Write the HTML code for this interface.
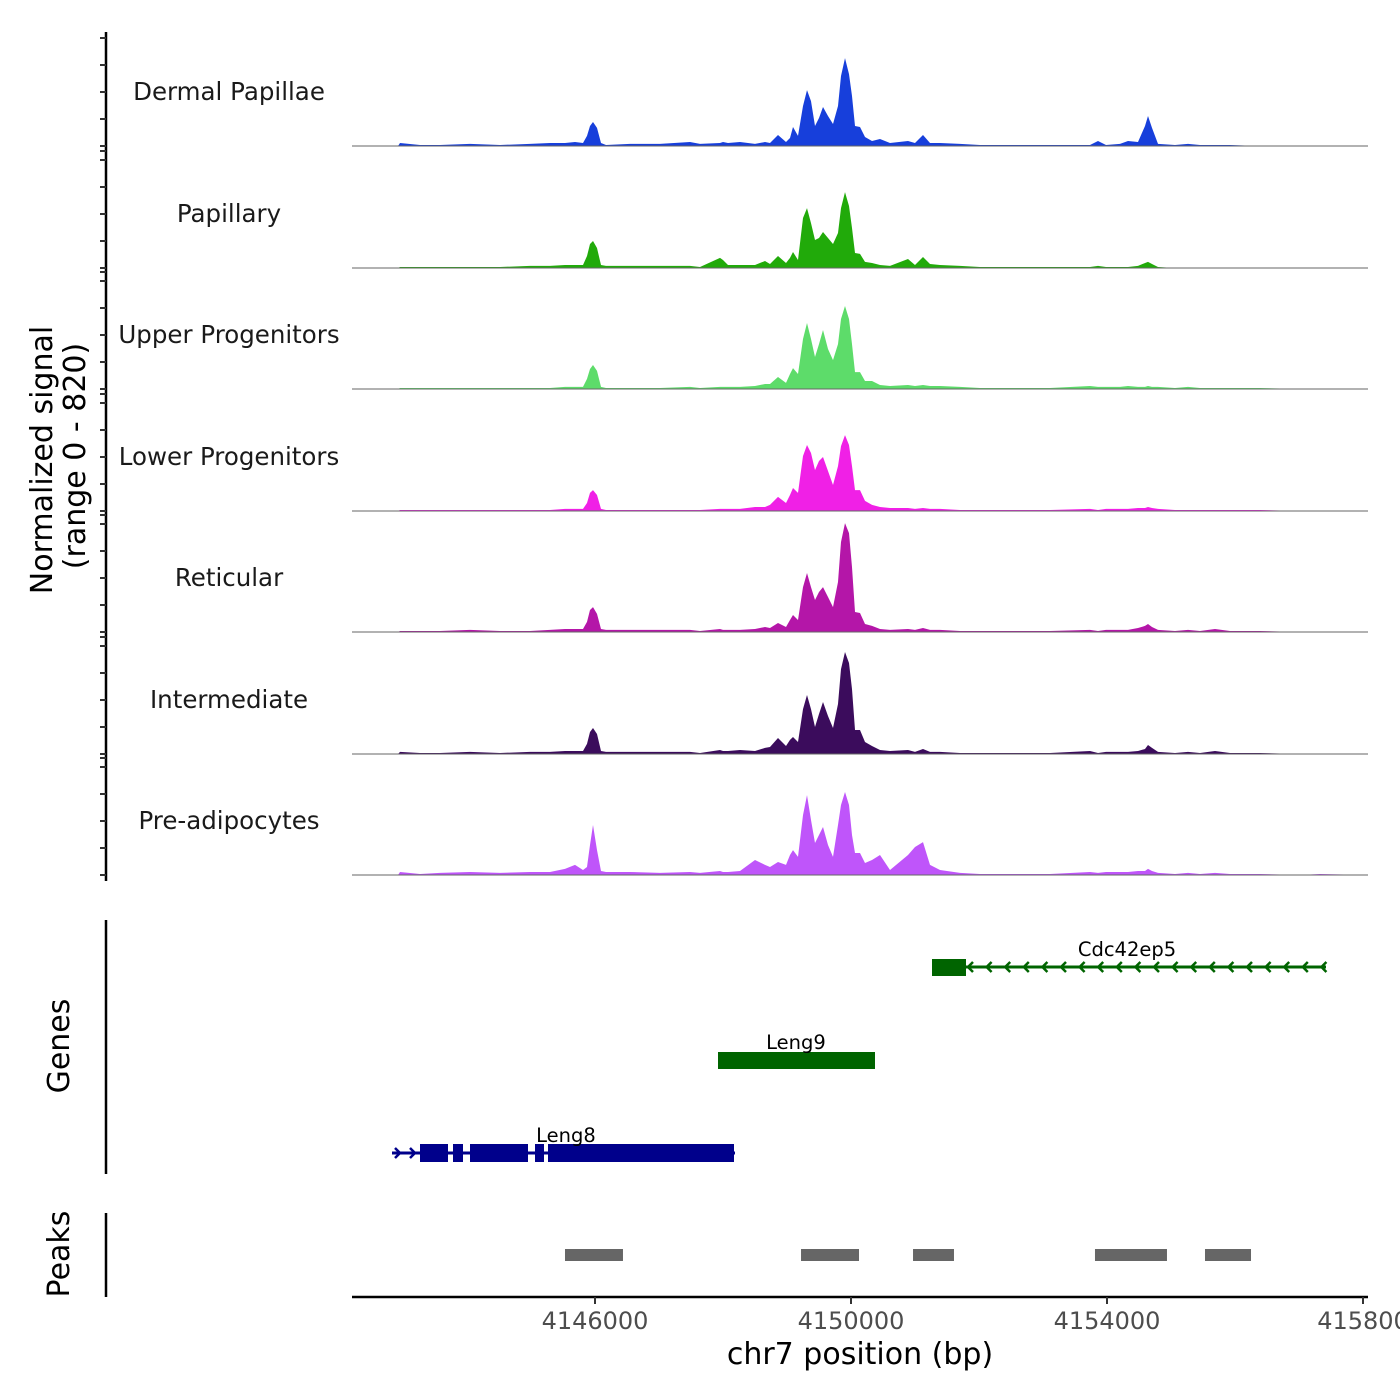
<!DOCTYPE html>
<html><head><meta charset="utf-8">
<style>
html,body{margin:0;padding:0;background:#fff;}
svg{display:block;font-family:"DejaVu Sans","Liberation Sans",sans-serif;}
</style></head>
<body>
<svg id="chart" width="1400" height="1400" viewBox="0 0 1400 1400" xmlns="http://www.w3.org/2000/svg">
  <rect width="1400" height="1400" fill="#fff"/>
  <g id="tracks"></g>
  <g id="yaxis"></g>
  <text transform="translate(52,460) rotate(-90)" text-anchor="middle" font-size="30" fill="#000">Normalized signal</text>
  <text transform="translate(85,456) rotate(-90)" text-anchor="middle" font-size="30" fill="#000">(range 0 - 820)</text>
  <line x1="106" y1="920" x2="106" y2="1174" stroke="#000" stroke-width="2.5"/>
  <text transform="translate(69,1046) rotate(-90)" text-anchor="middle" font-size="30" fill="#000">Genes</text>
  <g id="genes"></g>
  <line x1="106" y1="1213" x2="106" y2="1297" stroke="#000" stroke-width="2.5"/>
  <text transform="translate(69,1254) rotate(-90)" text-anchor="middle" font-size="30" fill="#000">Peaks</text>
  <g id="peaks"></g>
  <g id="xaxis"></g>
  <text x="860" y="1364" text-anchor="middle" font-size="30" fill="#000">chr7 position (bp)</text>
</svg>
<script>
const positions = [4142203,4142922,4142953,4143266,4143578,4144047,4144516,4144984,4145297,4145531,4145687,4145812,4145875,4145922,4145969,4146031,4146094,4146172,4146547,4147016,4147484,4147641,4147953,4148000,4148078,4148266,4148500,4148656,4148734,4148859,4148984,4149047,4149094,4149172,4149250,4149312,4149375,4149437,4149500,4149562,4149641,4149719,4149797,4149844,4149906,4149969,4150016,4150062,4150141,4150219,4150328,4150453,4150609,4150891,4151000,4151125,4151234,4151391,4151703,4152016,4152328,4153109,4153734,4153859,4153984,4154203,4154328,4154484,4154594,4154641,4154703,4154797,4155062,4155266,4155453,4155687,4155922,4156391,4157016,4157328,4158078];
const trackNames = ["Dermal Papillae","Papillary","Upper Progenitors","Lower Progenitors","Reticular","Intermediate","Pre-adipocytes"];
const trackColors = ["#173fdb","#21aa0a","#5ddc6a","#f020e6","#b416a8","#3b0c5c","#bf55fa"];
const sigDP = [0,0,22,7,7,15,7,15,22,22,29,22,73,145,174,131,22,7,15,15,29,15,22,29,22,29,15,29,22,80,29,58,138,73,290,406,326,145,203,283,218,160,290,508,638,522,363,145,138,65,36,51,22,36,22,80,22,22,15,7,7,7,7,36,7,15,36,29,145,218,131,15,7,15,7,7,7,0,0,0,0];
const sigPap = [0,0,7,7,7,7,7,15,15,22,22,22,87,174,196,145,22,15,15,15,15,7,73,58,22,22,22,51,29,87,36,73,116,58,363,435,326,203,218,261,218,174,254,435,551,450,290,109,102,44,36,22,15,65,22,80,29,22,15,7,7,7,7,15,7,7,7,15,36,44,29,7,0,0,0,0,0,0,0,0,0];
const sigUP = [0,0,7,7,7,7,7,7,7,15,15,15,73,145,174,131,15,7,7,7,15,7,15,15,15,15,22,36,36,87,44,109,152,109,363,479,363,232,326,428,290,210,326,508,602,508,326,123,123,58,58,29,22,29,22,29,22,22,15,7,7,7,22,15,15,15,22,15,15,22,15,15,7,15,7,7,7,7,0,0,0];
const sigLP = [0,0,7,7,7,7,7,7,7,15,15,15,58,131,152,116,15,7,7,7,7,7,15,15,15,15,29,29,44,102,58,116,167,131,399,479,421,297,363,392,290,189,326,471,551,479,326,152,152,73,44,29,22,22,15,22,15,15,7,7,7,7,15,7,15,15,15,22,22,29,22,15,7,7,7,7,7,7,0,0,0];
const sigRet = [0,0,7,7,7,15,7,7,15,22,22,22,73,160,181,131,22,15,15,15,15,7,22,15,15,15,22,36,29,65,36,87,123,87,326,428,326,232,290,326,254,181,363,653,790,718,471,145,138,58,44,22,15,22,15,29,15,15,7,7,7,7,15,7,15,15,15,29,44,58,36,15,7,15,7,22,7,7,0,0,0];
const sigInt = [0,0,15,7,7,15,7,15,15,22,22,22,73,160,189,145,22,15,15,15,15,7,29,22,22,29,22,44,51,116,58,102,123,87,326,428,326,196,290,377,276,189,363,616,740,660,471,174,174,87,58,29,22,29,15,36,15,15,7,7,7,7,22,7,15,15,15,22,36,65,44,15,7,15,7,22,7,7,0,0,0];
const sigPre = [0,0,22,7,15,22,15,22,22,44,73,36,58,218,363,181,29,22,22,15,22,15,29,22,22,29,109,73,58,94,73,145,181,131,435,580,399,232,290,348,218,131,363,508,602,508,290,160,160,87,109,145,36,145,203,239,73,36,15,7,7,7,22,15,22,22,22,29,29,44,29,15,7,15,7,15,7,7,0,7,0];
const xTicks = [4146000,4150000,4154000,4158000];
const xTickLabels = ["4146000","4150000","4154000","415800"];
const peakStarts = [4145531,4149219,4150969,4153812,4155531];
const peakEnds = [4146437,4150125,4151609,4154937,4156250];

const NS="http://www.w3.org/2000/svg";
const X0=352, X1=1368, BP0=4142203, BP1=4158078;
function xScale(bp){return X0+(bp-BP0)/(BP1-BP0)*(X1-X0);}
const baselines=[146,268,389,511,632,754,875];
function yScale(v,b){return b - v/820*113;}
function mk(tag,attrs,parent){const e=document.createElementNS(NS,tag);for(const k in attrs)e.setAttribute(k,attrs[k]);parent.appendChild(e);return e;}

const series=[sigDP,sigPap,sigUP,sigLP,sigRet,sigInt,sigPre];
const tg=document.getElementById('tracks');
series.forEach((s,i)=>{
  const b=baselines[i];
  const n=Math.min(s.length,positions.length);
  let d="M"+xScale(positions[0])+","+b;
  for(let j=0;j<n;j++){d+=" L"+xScale(positions[j]).toFixed(1)+","+yScale(s[j],b).toFixed(1);}
  d+=" L"+xScale(positions[n-1])+","+b+" Z";
  const p=mk('path',{d:d,fill:trackColors[i],stroke:'none'},tg);
  
  
  const l=mk('line',{x1:X0,x2:X1,y1:b,y2:b,stroke:'#666','stroke-width':1},tg);
  
  
  const t=mk('text',{x:229,y:b-46,'text-anchor':'middle','font-size':24.5,fill:'#1a1a1a'},tg);
  t.textContent=trackNames[i];
  
  
});

const ya=document.getElementById('yaxis');
const al=mk('line',{x1:106,y1:32,x2:106,y2:881,stroke:'#000','stroke-width':2.5},ya);


baselines.forEach((b,i)=>{
  const offs=i===0?[0,27,54,81,108]:[0,27,54,81,108,117];
  offs.forEach(o=>{
    const t=mk('line',{x1:100,x2:106,y1:b-o,y2:b-o,stroke:'#333','stroke-width':2},ya);
    
    
  });
});

const gg=document.getElementById('genes');
let e=mk('line',{x1:932,x2:1326,y1:967,y2:967,stroke:'#006400','stroke-width':3},gg);


e=mk('rect',{x:932,y:959,width:34,height:17,fill:'#006400'},gg);


for(let cx=968;cx<=1327;cx+=18.6){
  const c=mk('path',{d:`M${cx+5},${962} L${cx},${967} L${cx+5},${972}`,fill:'none',stroke:'#006400','stroke-width':2.5},gg);
  
  
}
e=mk('text',{x:1127,y:956,'text-anchor':'middle','font-size':19.5,fill:'#000'},gg);e.textContent='Cdc42ep5';


e=mk('rect',{x:718,y:1052,width:157,height:17,fill:'#006400'},gg);


e=mk('text',{x:796,y:1049,'text-anchor':'middle','font-size':19.5,fill:'#000'},gg);e.textContent='Leng9';


e=mk('line',{x1:392,x2:735,y1:1153,y2:1153,stroke:'#00008b','stroke-width':3},gg);


[[420,448],[453,463],[470,528],[535,544],[548,734]].forEach(([a,b])=>{
  const r=mk('rect',{x:a,y:1144,width:b-a,height:18,fill:'#00008b'},gg);
  
  
});
[395,410].forEach(cx=>{
  const c=mk('path',{d:`M${cx},1148 L${cx+5},1153 L${cx},1158`,fill:'none',stroke:'#00008b','stroke-width':2.5},gg);
  
  
});
e=mk('text',{x:566,y:1142,'text-anchor':'middle','font-size':19.5,fill:'#000'},gg);e.textContent='Leng8';



const pg=document.getElementById('peaks');
peakStarts.forEach((s,i)=>{
  const r=mk('rect',{x:xScale(s),y:1249,width:xScale(peakEnds[i])-xScale(s),height:12,fill:'#666'},pg);
  
  
});

const xa=document.getElementById('xaxis');
e=mk('line',{x1:352,x2:1368,y1:1297,y2:1297,stroke:'#000','stroke-width':2.5},xa);


xTicks.forEach((v,i)=>{
  const x=xScale(v);
  const t=mk('line',{x1:x,x2:x,y1:1297,y2:1304,stroke:'#333','stroke-width':2},xa);
  
  
  const lb=mk('text',{x:x,y:1329,'text-anchor':'middle','font-size':24,fill:'#4d4d4d'},xa);
  lb.textContent=xTickLabels[i];
  
  
});
</script>
</body></html>
